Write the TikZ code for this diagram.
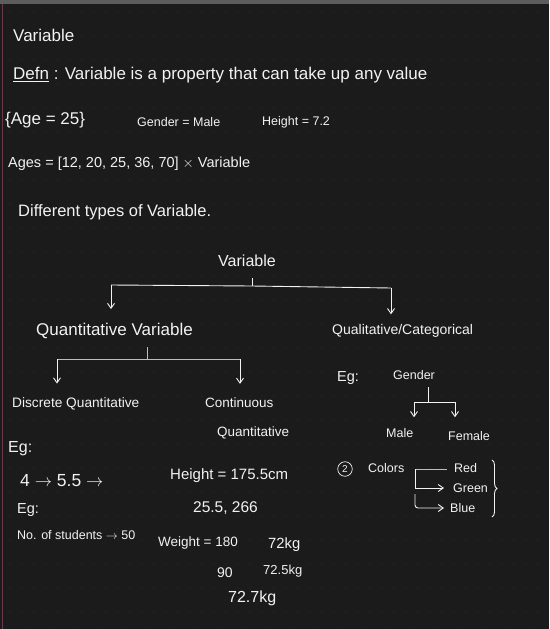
\documentclass[tikz,border=0pt]{standalone}
\usepackage{fontspec}
\setmainfont{Liberation Sans}
\usetikzlibrary{arrows.meta,positioning,calc,decorations.pathreplacing}
\definecolor{board}{HTML}{1B1B1B}
\definecolor{ink}{HTML}{F2F2F2}
\definecolor{dimink}{HTML}{BDBDBD}
\definecolor{griddot}{HTML}{2E2E2E}
\definecolor{topbar}{HTML}{5C5C5C}
\definecolor{marginline}{HTML}{6A3A48}
\tikzset{
  note/.style={text=ink,inner sep=0pt,anchor=west,font=\fontsize{12.5}{15}\selectfont},
  fs/.style={font=\fontsize{#1}{#1}\selectfont},
  link/.style={draw=ink,line width=0.9pt},
  branch/.style={link,-{Straight Barb[length=5pt,width=7pt]}},
}

\begin{document}
\begin{tikzpicture}[x=1pt,y=-1pt]
  \useasboundingbox (0,0) rectangle (549,629);
  \fill[board] (0,0) rectangle (549,629);
  \foreach \gx in {10,22,...,549}
  \foreach \gy in {12,24,...,629}
  \fill[griddot] (\gx,\gy) circle (0.7);
  \fill[topbar] (0,0) rectangle (549,4);
  \draw[marginline,line width=1pt] (2.5,4) -- (2.5,629);

  % notes at the top
  \node[note,fs=17] (head) at (13,35) {Variable};
  \node[note,fs=17] (defn) at (13,75) {\underline{Defn} : Variable is a property that can take up any value};
  \node[note,fs=17] (age) at (5,120) {\{Age = 25\}};
  \node[note] (gender) at (137,122) {Gender = Male};
  \node[note] (height) at (262,122) {Height = 7.2};
  \node[note,fs=14.5] (ages) at (8,164) {Ages = [12, 20, 25, 36, 70] $\times$ Variable};
  \node[note,fs=16.5] (types) at (18,212) {Different types of Variable.};

  % tree of variables
  \node[note,fs=16,anchor=center] (var) at (247,261) {Variable};
  \node[note,fs=17] (quant) at (36,331) {Quantitative Variable};
  \node[note,fs=14] (qual) at (332,331) {Qualitative/Categorical};
  \coordinate (vj) at (252,286);
  \coordinate (vl) at (111,285);
  \coordinate (vr) at (391,288);
  \draw[link] ($(vj)+(0,-8)$) -- (vj);
  \draw[link] (vl) -- (vj) -- (vr);
  \draw[branch,shorten >=14pt] (vl) -- (vl |- quant.north);
  \draw[branch,shorten >=10pt] (vr) -- (vr |- qual.north);

  % quantitative side
  \node[note,fs=13.7] (disc) at (12,404) {Discrete Quantitative};
  \node[note,fs=13.5] (cont) at (205,403) {Continuous};
  \node[note,fs=13.5] (contq) at (217,433) {Quantitative};
  \coordinate (qj) at (147,359);
  \coordinate (ql) at (57,359);
  \coordinate (qr) at (240,359);
  \draw[link,draw=dimink] ($(qj)+(0,-12)$) -- (qj);
  \draw[link,draw=dimink] (ql) -- (qr);
  \draw[branch,shorten >=14pt] (ql) -- (ql |- disc.north);
  \draw[branch,shorten >=14pt] (qr) -- (qr |- cont.north);

  \node[note,fs=16] (eg1) at (8,449) {Eg:};
  \node[note,fs=17.5] (seq) at (20,481) {4 $\rightarrow$ 5.5 $\rightarrow$};
  \node[note,fs=14.5] (eg2) at (17,510) {Eg:};
  \node[note] (stud) at (17,535) {No. of students $\rightarrow$ 50};
  \node[note,fs=15] (hgt) at (170,476) {Height = 175.5cm};
  \node[note,fs=15.5] (hval) at (193,508) {25.5, 266};
  \node[note,fs=13.5] (wgt) at (158,543) {Weight = 180};
  \node[note,fs=14.8] (wa) at (268,545) {72kg};
  \node[note,fs=14] (wb) at (217,573) {90};
  \node[note,fs=13] (wc) at (263,571) {72.5kg};
  \node[note,fs=16] (wd) at (228,598) {72.7kg};

  % qualitative side
  \node[note,fs=14.5] (eg3) at (337,378) {Eg:};
  \node[note] (gend) at (393,375) {Gender};
  \coordinate (gj) at (428,402);
  \coordinate (gl) at (414,402);
  \coordinate (gr) at (455,402);
  \draw[link] ($(gj)+(0,-15)$) -- (gj);
  \draw[link] (gl) -- (gr);
  \node[note] (male) at (386,433) {Male};
  \node[note] (fem) at (448,436) {Female};
  \draw[branch,shorten >=11pt] (gl) -- (gl |- male.north);
  \draw[branch,shorten >=14pt] (gr) -- (gr |- fem.north);

  \node[circle,draw=ink,text=ink,line width=0.7pt,inner sep=2pt,fs=10] (two) at (345,469) {2};
  \node[note] (colors) at (368,468) {Colors};
  \node[note] (red) at (454,468) {Red};
  \node[note] (green) at (453,488) {Green};
  \node[note] (blue) at (450,508) {Blue};
  \coordinate (cj) at (415,469);
  \coordinate (cb) at (415,494);
  \draw[link,draw=dimink,shorten >=7pt] (cj) -- (cj -| red.west);
  \draw[branch,shorten >=9pt] (cj) |- (green.west);
  \draw[branch,rounded corners=3pt,shorten >=6pt] (cb) |- (blue.west);
  \coordinate (bt) at (492,460);
  \coordinate (bb) at (492,517);
  \draw[link,decorate,decoration={brace,amplitude=5pt}] (bt) -- (bb);
\end{tikzpicture}
\end{document}
